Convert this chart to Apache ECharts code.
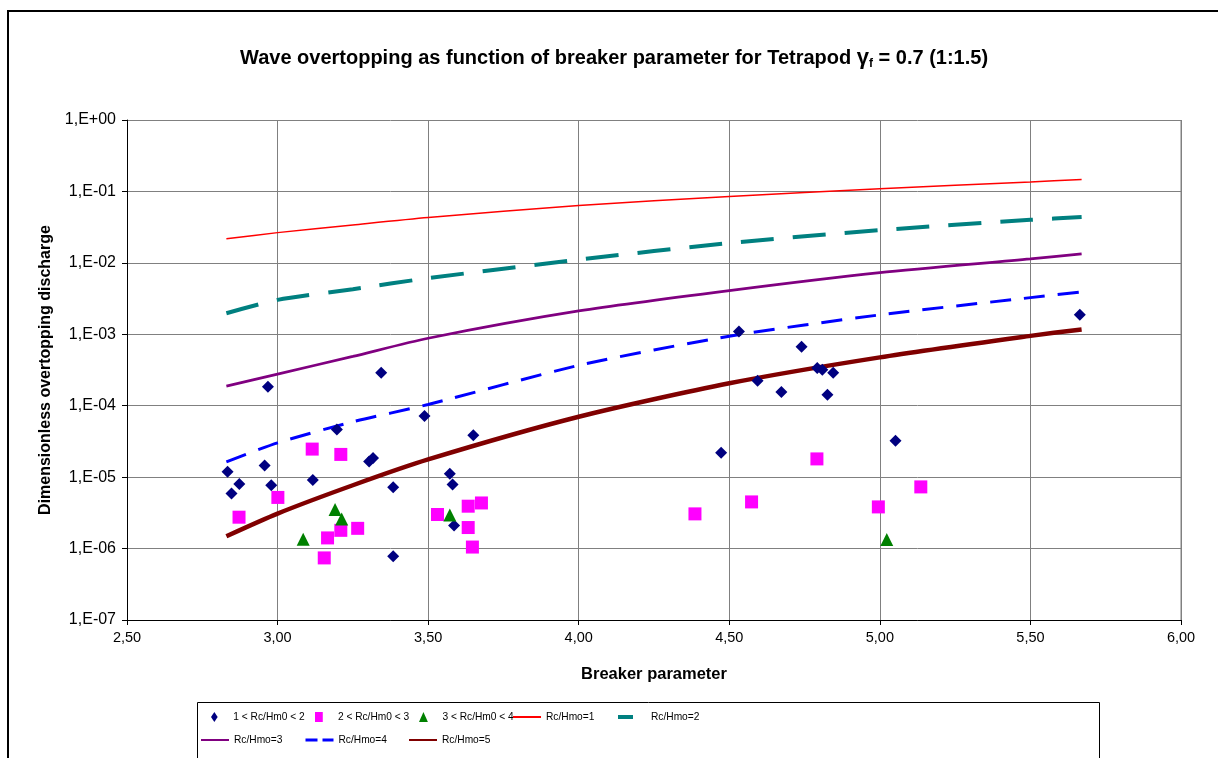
<!DOCTYPE html>
<html>
<head>
<meta charset="utf-8">
<title>Wave overtopping – Tetrapod</title>
<script src="https://cdn.jsdelivr.net/npm/echarts@6/dist/echarts.min.js"></script>
<style>
  html, body { margin: 0; padding: 0; background: #ffffff; }
  #chart { width: 1218px; height: 758px; }
</style>
</head>
<body>
<div id="chart"></div>
<script>
// Axis tick labels (Excel-style, comma decimal separator)
const xTickLabels = ['2,50', '3,00', '3,50', '4,00', '4,50', '5,00', '5,50', '6,00'];
const yTickLabels = ['1,E-07', '1,E-06', '1,E-05', '1,E-04', '1,E-03', '1,E-02', '1,E-01', '1,E+00'];

// Measured overtopping, grouped by relative crest freeboard Rc/Hm0: [breaker parameter, q*]
const pointsRc1to2 = [
  [2.834, 1.19e-5], [2.873, 8.0e-6], [2.847, 5.9e-6], [2.968, 1.84e-4], [2.957, 1.46e-5],
  [2.979, 7.7e-6], [3.117, 9.1e-6], [3.197, 4.66e-5], [3.344, 2.9e-4], [3.304, 1.66e-5],
  [3.317, 1.85e-5], [3.384, 7.2e-6], [3.384, 7.8e-7], [3.488, 7.2e-5], [3.572, 1.12e-5],
  [3.581, 7.9e-6], [3.586, 2.1e-6], [3.650, 3.87e-5], [4.473, 2.19e-5], [4.532, 1.09e-3],
  [4.740, 6.7e-4], [4.594, 2.24e-4], [4.673, 1.55e-4], [4.792, 3.37e-4], [4.809, 3.19e-4],
  [4.845, 2.9e-4], [4.826, 1.42e-4], [5.052, 3.23e-5], [5.664, 1.88e-3]
];
const pointsRc2to3 = [
  [3.115, 2.47e-5], [3.210, 2.08e-5], [3.001, 5.2e-6], [2.872, 2.75e-6], [3.166, 1.41e-6],
  [3.155, 7.4e-7], [3.210, 1.8e-6], [3.266, 1.92e-6], [3.531, 3.0e-6], [3.633, 3.92e-6],
  [3.677, 4.35e-6], [3.633, 1.97e-6], [3.647, 1.05e-6], [4.386, 3.06e-6], [4.574, 4.5e-6],
  [4.791, 1.8e-5], [4.995, 3.83e-6], [5.136, 7.3e-6]
];
const pointsRc3to4 = [
  [3.191, 3.52e-6], [3.213, 2.6e-6], [3.085, 1.35e-6], [3.572, 2.96e-6], [5.023, 1.34e-6]
];

// Prediction curves: breaker parameter positions and q* for each Rc/Hmo
const curveX = [2.83, 3.0, 3.25, 3.5, 4.0, 4.5, 5.0, 5.5, 5.67];
const curveRc1 = [0.0217, 0.0265, 0.034, 0.0432, 0.0635, 0.0849, 0.109, 0.136, 0.147];
const curveRc2 = [0.00197, 0.00303, 0.00428, 0.0061, 0.0111, 0.0189, 0.0287, 0.040, 0.0437];
const curveRc3 = [1.88e-4, 2.77e-4, 4.9e-4, 8.8e-4, 2.12e-3, 4.09e-3, 7.3e-3, 1.137e-2, 1.336e-2];
const curveRc4 = [1.64e-5, 3.02e-5, 5.96e-5, 1.04e-4, 3.67e-4, 9.4e-4, 1.87e-3, 3.26e-3, 3.92e-3];
const curveRc5 = [1.49e-6, 3.09e-6, 7.7e-6, 1.77e-5, 7.0e-5, 2.06e-4, 4.75e-4, 9.5e-4, 1.17e-3];

const FONT = '"Liberation Sans", Arial, sans-serif';

function pairUp(xs, ys) {
  return xs.map((x, i) => [x, ys[i]]);
}

function lineSeries(name, ys, color, width, dash) {
  return {
    name: name,
    type: 'line',
    data: pairUp(curveX, ys),
    symbol: 'none',
    smooth: 0.25,
    lineStyle: { color: color, width: width, type: dash || 'solid', cap: 'butt' },
    itemStyle: { color: color },
    emphasis: { disabled: true },
    z: 3
  };
}

function scatterSeries(name, data, symbol, size, color) {
  return {
    name: name,
    type: 'scatter',
    data: data,
    symbol: symbol,
    symbolSize: size,
    itemStyle: { color: color, opacity: 1 },
    emphasis: { disabled: true },
    z: 4
  };
}

const legendIcons = {
  diamond: 'path://M4,0L8,6L4,12L0,6Z',
  square: 'path://M0,0L7,0L7,9L0,9Z',
  triangle: 'path://M4,0L8,9L0,9Z'
};

// One legend block per entry so the entries sit on a fixed column grid
function legendAt(name, left, top, icon, lineStyle) {
  const item = { name: name };
  if (icon) item.icon = icon;
  const lg = {
    data: [item],
    left: left,
    top: top,
    padding: 0,
    itemWidth: 28,
    itemHeight: 10,
    symbolKeepAspect: true,
    selectedMode: false,
    textStyle: { fontFamily: FONT, fontSize: 10.2, color: '#000000', lineHeight: 14 }
  };
  if (!icon) {
    // line entries: show the stroke only
    lg.itemStyle = { opacity: 0 };
  }
  if (lineStyle) lg.lineStyle = lineStyle;
  return lg;
}

const chart = echarts.init(document.getElementById('chart'), null, { renderer: 'canvas' });

const option = {
  backgroundColor: '#ffffff',
  animation: false,
  title: {
    text: 'Wave overtopping as function of breaker parameter for Tetrapod {g|γ}{f|f}{t| = 0.7 (1:1.5)}',
    left: 240,
    top: 46,
    padding: 0,
    textStyle: {
      fontFamily: FONT,
      fontSize: 20,
      fontWeight: 'bold',
      color: '#000000',
      lineHeight: 24,
      rich: {
        g: { fontFamily: FONT, fontSize: 22, fontWeight: 'bold', color: '#000000', lineHeight: 24 },
        f: { fontFamily: FONT, fontSize: 12, fontWeight: 'bold', color: '#000000', lineHeight: 12, verticalAlign: 'bottom' },
        t: { fontFamily: FONT, fontSize: 20, fontWeight: 'bold', color: '#000000', lineHeight: 24 }
      }
    }
  },
  grid: {
    left: 127,
    right: 37,
    top: 120,
    bottom: 138,
    show: false
  },
  xAxis: {
    type: 'value',
    min: 2.5,
    max: 6.0,
    interval: 0.5,
    name: 'Breaker parameter',
    nameLocation: 'middle',
    nameGap: 46,
    nameTextStyle: { fontFamily: FONT, fontSize: 16.5, fontWeight: 'bold', color: '#000000' },
    axisLine: { show: true, onZero: false, lineStyle: { color: '#000000', width: 1 } },
    axisTick: { show: true, inside: false, length: 5, lineStyle: { color: '#000000' } },
    axisLabel: {
      margin: 10,
      fontFamily: FONT,
      fontSize: 14.5,
      color: '#000000',
      formatter: function (v) { return xTickLabels[Math.round((v - 2.5) / 0.5)]; }
    },
    splitLine: { show: true, lineStyle: { color: '#808080', width: 1 } }
  },
  yAxis: {
    type: 'log',
    logBase: 10,
    min: 1e-7,
    max: 1,
    name: 'Dimensionless overtopping discharge',
    nameLocation: 'middle',
    nameGap: 73,
    nameRotate: 90,
    nameTextStyle: { fontFamily: FONT, fontSize: 16, fontWeight: 'bold', color: '#000000' },
    axisLine: { show: true, lineStyle: { color: '#000000', width: 1 } },
    axisTick: { show: true, inside: false, length: 5, lineStyle: { color: '#000000' } },
    minorTick: { show: false },
    axisLabel: {
      margin: 11,
      fontFamily: FONT,
      fontSize: 16,
      color: '#000000',
      formatter: function (v) { return yTickLabels[Math.round(Math.log10(v)) + 7]; }
    },
    splitLine: { show: true, lineStyle: { color: '#808080', width: 1 } }
  },
  legend: [
    legendAt('1 < Rc/Hm0 < 2', 211, 710, legendIcons.diamond),
    legendAt('2 < Rc/Hm0 < 3', 315, 710, legendIcons.square),
    legendAt('3 < Rc/Hm0 < 4', 419, 710, legendIcons.triangle),
    legendAt('Rc/Hmo=1', 512, 710),
    legendAt('Rc/Hmo=2', 616, 710, null, { type: [15, 40], width: 4 }),
    legendAt('Rc/Hmo=3', 200, 733),
    legendAt('Rc/Hmo=4', 304, 733, null, { type: [12, 5], width: 3 }),
    legendAt('Rc/Hmo=5', 408, 733)
  ],
  graphic: [
    {
      type: 'rect',
      shape: { x: 8, y: 11, width: 1240, height: 780 },
      style: { fill: 'none', stroke: '#000000', lineWidth: 2 },
      silent: true,
      z: 100
    },
    {
      type: 'rect',
      shape: { x: 197.5, y: 702.5, width: 902, height: 80 },
      style: { fill: 'none', stroke: '#000000', lineWidth: 1 },
      silent: true,
      z: 100
    },
    {
      type: 'line',
      shape: { x1: 1181, y1: 120, x2: 1181, y2: 620 },
      style: { stroke: '#808080', lineWidth: 1 },
      silent: true,
      z: 1
    }
  ],
  series: [
    lineSeries('Rc/Hmo=1', curveRc1, '#FF0000', 1.5),
    lineSeries('Rc/Hmo=2', curveRc2, '#008080', 4, [33, 19]),
    lineSeries('Rc/Hmo=3', curveRc3, '#800080', 2.75),
    lineSeries('Rc/Hmo=4', curveRc4, '#0000FF', 3, [21, 13]),
    lineSeries('Rc/Hmo=5', curveRc5, '#800000', 4.5),
    scatterSeries('1 < Rc/Hm0 < 2', pointsRc1to2, 'diamond', 12, '#000080'),
    scatterSeries('2 < Rc/Hm0 < 3', pointsRc2to3, 'rect', 13, '#FF00FF'),
    scatterSeries('3 < Rc/Hm0 < 4', pointsRc3to4, 'triangle', 13, '#008000')
  ]
};

chart.setOption(option);
</script>
</body>
</html>
